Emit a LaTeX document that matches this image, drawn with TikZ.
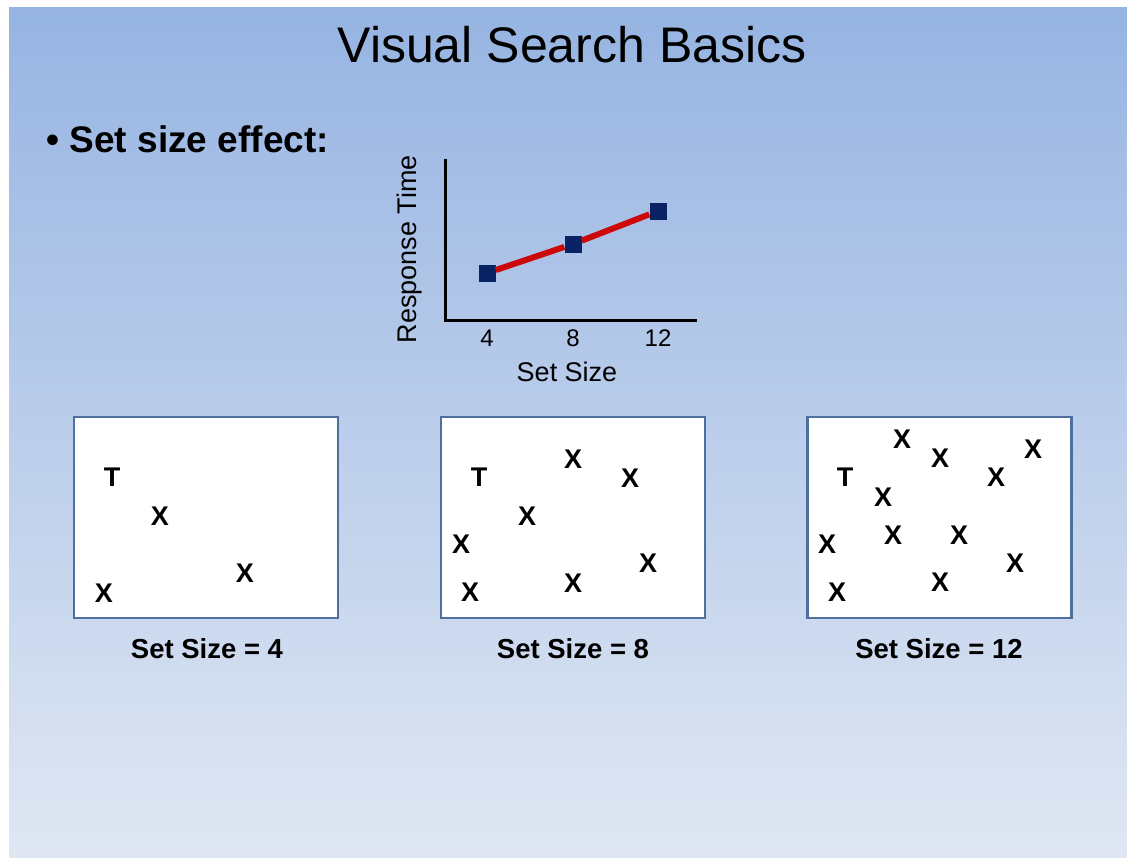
\documentclass[tikz,border=0pt]{standalone}
\usepackage{fontspec}
\setmainfont{Liberation Sans}
\usetikzlibrary{positioning}
\definecolor{slidetop}{RGB}{150,180,226}
\definecolor{slidebot}{RGB}{224,231,243}
\definecolor{panelblue}{RGB}{79,111,157}
\definecolor{markblue}{RGB}{8,34,100}
\definecolor{trendred}{RGB}{204,8,8}

\tikzset{
  panel/.style={draw=panelblue, line width=2.4pt, fill=white, minimum width=264pt, minimum height=201pt, inner sep=0pt},
  item/.style={font=\fontsize{27}{32}\selectfont\bfseries, inner sep=0pt},
  caption/.style={font=\fontsize{27.5}{32}\selectfont\bfseries, anchor=base},
  datapt/.style={fill=markblue, minimum size=17pt, inner sep=0pt},
  axislbl/.style={font=\fontsize{27}{32}\selectfont},
  ticklbl/.style={font=\fontsize{24}{28}\selectfont, anchor=base},
}

\begin{document}
\begin{tikzpicture}[x=1pt, y=-1pt]
\useasboundingbox (0,0) rectangle (1127,857);
\fill[white] (0,0) rectangle (1127,857);
\shade[top color=slidetop, bottom color=slidebot] (9,7) rectangle (1127,857);

% title and bullet
\node[anchor=base, font=\fontsize{50}{60}\selectfont] (title) at (572,62) {Visual Search Basics};
\node[anchor=base west, font=\fontsize{37}{44}\selectfont\bfseries] (bullet) at (43,152) {\textbullet\ Set size effect:};

% small graph
\coordinate (ytop) at (445,160);
\coordinate (origin) at (445,320);
\coordinate (xend) at (695,320);
\draw[line width=3pt, line cap=rect] (ytop) -- (origin) -- (xend);
\node[datapt] (p4) at (487,273) {};
\node[datapt] (p8) at (573,244) {};
\node[datapt] (p12) at (658,211) {};
\draw[trendred, line width=6pt] (p4) -- (p8) -- (p12);
\node[ticklbl] (t4) at (487,346) {4};
\node[ticklbl] (t8) at (573,346) {8};
\node[ticklbl] (t12) at (658,346) {12};
\node[axislbl, anchor=base] (xlbl) at (567,381) {Set Size};
\node[axislbl, rotate=90] (ylbl) at (410,249) {Response Time};

% search displays
\node[panel] (box1) at (206,517.5) {};
\node[panel] (box2) at (573,517.5) {};
\node[panel] (box3) at (939.5,517.5) {};

\node[item] (b1t) at (112,477) {T};
\foreach \px/\py [count=\i] in {160/516, 245/573, 104/593}
  \node[item] (b1x\i) at (\px,\py) {X};

\node[item] (b2t) at (479,477) {T};
\foreach \px/\py [count=\i] in {573/459, 630/478, 527/516, 461/544, 648/563, 573/583, 470/592}
  \node[item] (b2x\i) at (\px,\py) {X};

\node[item] (b3t) at (845,477) {T};
\foreach \px/\py [count=\i] in {902/439, 940/458, 1033/449, 996/477, 883/497, 893/535, 959/535, 827/544, 1015/563, 940/582, 837/592}
  \node[item] (b3x\i) at (\px,\py) {X};

\node[caption] (cap1) at (207,658) {Set Size = 4};
\node[caption] (cap2) at (573,658) {Set Size = 8};
\node[caption] (cap3) at (939,658) {Set Size = 12};
\end{tikzpicture}
\end{document}
